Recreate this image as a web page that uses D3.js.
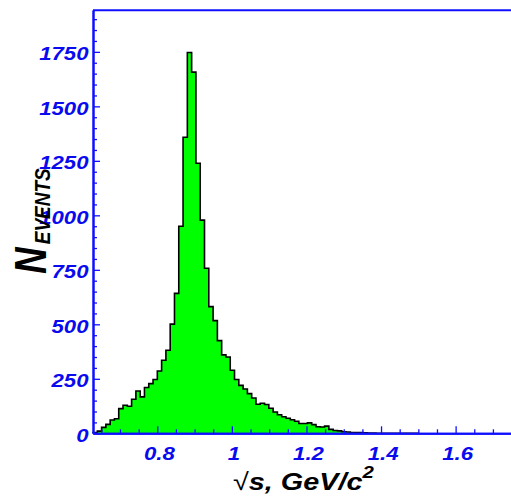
<!DOCTYPE html>
<html><head><meta charset="utf-8">
<script src="https://cdn.jsdelivr.net/npm/d3@7"></script>
<style>body{margin:0;background:#fff} svg{display:block}</style>
</head><body><svg id="c" width="511" height="499"></svg>
<script>
// ---- data ----
const binStart = 0.6276;
const binWidth = 0.0115;
const counts = [
  3, 10, 27, 41, 61, 67, 113, 129, 124, 156,
  194, 167, 210, 228, 247, 286, 335, 381, 501, 642,
  950, 1358, 1747, 1657, 1239, 978, 757, 581, 517, 425,
  360, 350, 289, 247, 220, 203, 182, 162, 133, 138,
  132, 115, 98, 85, 76, 69, 62, 55, 45, 45,
  48, 40, 30, 29, 33, 18, 13, 11, 7, 6,
  4, 3, 3, 2, 1, 1, 0, 0, 0, 0,
  0, 0, 0, 0, 0, 0
];
const xMajorTicks = [0.8, 1.0, 1.2, 1.4, 1.6];
const xTickLabels = ["0.8", "1", "1.2", "1.4", "1.6"];
const yMajorTicks = [0, 250, 500, 750, 1000, 1250, 1500, 1750];
const yTickLabels = ["0", "250", "500", "750", "1000", "1250", "1500", "1750"];
const xMinorTicks = d3.range(0.65, 1.71, 0.05).filter(v => !xMajorTicks.some(m => Math.abs(m - v) < 1e-6));
const yMinorTicks = d3.range(50, 1901, 50).filter(v => v % 250 !== 0);

// ---- layout ----
const L = 93, R = 511, T = 10, B = 433.3;
const xDomain = [0.6276, 1.7485];
const yMax = 1942;
const blue = "#1010ff";
const labelBlue = "#0a0aee";
const font = "'Liberation Sans', Arial, Helvetica, sans-serif";

const svg = d3.select("#c");
const x = d3.scaleLinear().domain(xDomain).range([L, R]);
const y = d3.scaleLinear().domain([0, yMax]).range([B, T]);

// ---- histogram ----
const pts = [[binStart, 0]];
counts.forEach((c, i) => {
  pts.push([binStart + i * binWidth, c]);
  pts.push([binStart + (i + 1) * binWidth, c]);
});
pts.push([binStart + counts.length * binWidth, 0]);
const line = d3.line().x(d => x(d[0])).y(d => y(d[1]));
svg.append("path").attr("d", line(pts) + "Z")
  .attr("fill", "#00ff00").attr("stroke", "none");
svg.append("path").attr("d", line(pts))
  .attr("fill", "none").attr("stroke", "#000").attr("stroke-width", 1.6)
  .attr("stroke-linejoin", "miter");

// ---- axes ----
function styleAxis(g) {
  g.select(".domain").attr("stroke", blue).attr("stroke-width", 2);
  g.selectAll(".tick line").attr("stroke", blue).attr("stroke-width", 1.3);
}
// y major
const gy = svg.append("g").attr("transform", `translate(${L},0)`)
  .call(d3.axisLeft(y).tickValues(yMajorTicks).tickSizeInner(-7).tickSizeOuter(0)
    .tickPadding(0).tickFormat((d, i) => yTickLabels[i]));
styleAxis(gy);
gy.selectAll(".tick text")
  .attr("x", 0).attr("dy", 8)
  .attr("transform", "translate(-4.5,0) scale(1.2,1)")
  .attr("fill", labelBlue).attr("font-family", font)
  .attr("font-weight", "bold").attr("font-style", "italic").attr("font-size", 18.5);
// y minor
const gym = svg.append("g").attr("transform", `translate(${L},0)`)
  .call(d3.axisLeft(y).tickValues(yMinorTicks).tickSizeInner(-4).tickSizeOuter(0).tickFormat(""));
styleAxis(gym);

// x major
const gx = svg.append("g").attr("transform", `translate(0,${B})`)
  .call(d3.axisBottom(x).tickValues(xMajorTicks).tickSizeInner(-7).tickSizeOuter(0)
    .tickPadding(0).tickFormat((d, i) => xTickLabels[i]));
styleAxis(gx);
gx.selectAll(".tick text")
  .attr("y", 0).attr("dy", 0)
  .attr("transform", "translate(1.5,26.7) scale(1.2,1)")
  .attr("fill", labelBlue).attr("font-family", font)
  .attr("font-weight", "bold").attr("font-style", "italic").attr("font-size", 18.5);
const gxm = svg.append("g").attr("transform", `translate(0,${B})`)
  .call(d3.axisBottom(x).tickValues(xMinorTicks).tickSizeInner(-4).tickSizeOuter(0).tickFormat(""));
styleAxis(gxm);

// top border
svg.append("line").attr("x1", L).attr("x2", R).attr("y1", T + 0.3).attr("y2", T + 0.3)
  .attr("stroke", blue).attr("stroke-width", 2);

// ---- titles ----
const yt = svg.append("text")
  .attr("transform", "translate(46,274) scale(1.2,1) rotate(-90)")
  .attr("font-family", font).attr("font-weight", "bold").attr("font-style", "italic")
  .attr("fill", "#000");
yt.append("tspan").attr("font-size", 37).text("N");
yt.append("tspan").attr("font-size", 19).attr("dy", 3.3).attr("dx", 3).text("EVENTS");

const xt = svg.append("text")
  .attr("transform", "translate(233,490) scale(1.2,1)")
  .attr("font-family", font).attr("fill", "#000").attr("font-size", 24);
xt.append("tspan").attr("font-weight", "normal").text("√");
xt.append("tspan").attr("font-weight", "bold").attr("font-style", "italic").text("s, ");
xt.append("tspan").attr("font-weight", "bold").attr("font-style", "italic").attr("dx", 0).text("GeV/c");
xt.append("tspan").attr("font-weight", "bold").attr("font-style", "italic")
  .attr("font-size", 17).attr("dy", -12).text("2");
</script>
</body></html>
